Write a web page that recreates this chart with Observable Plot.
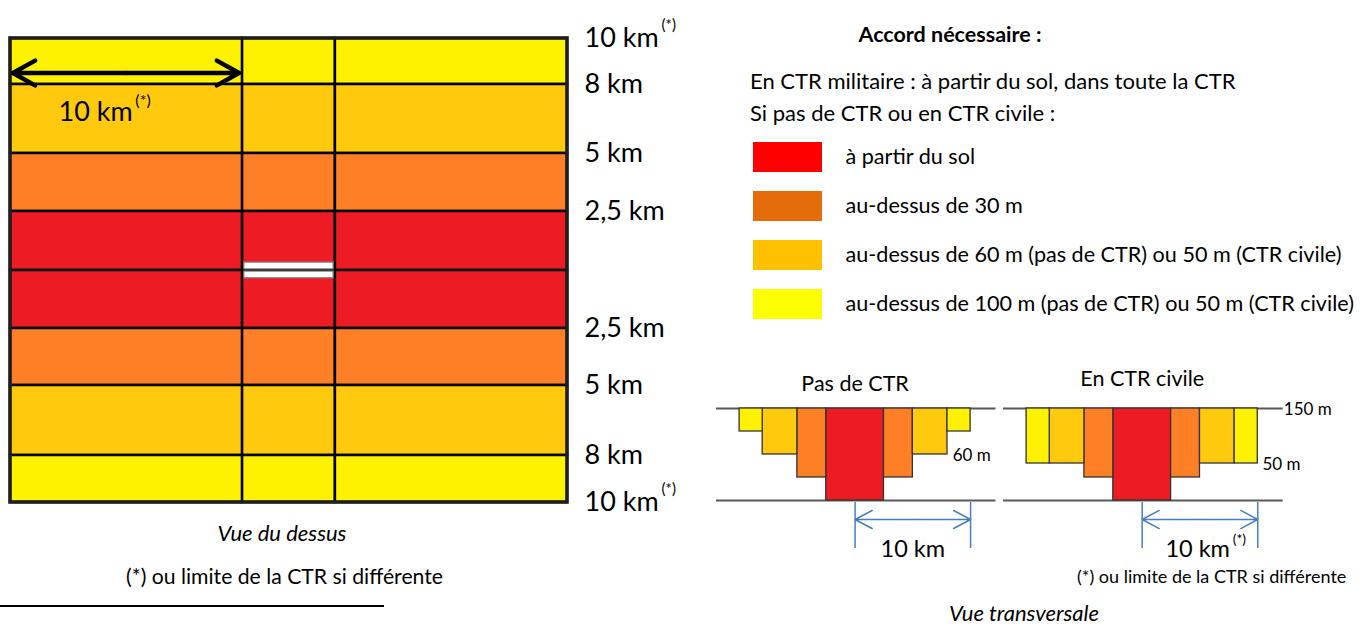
<!DOCTYPE html>
<html>
<head>
<meta charset="utf-8">
<script src="https://cdn.jsdelivr.net/npm/d3@7"></script>
<script src="https://cdn.jsdelivr.net/npm/@observablehq/plot@0.6"></script>
<style>
  html, body { margin: 0; padding: 0; background: #fff; }
  #page { position: relative; width: 1362px; height: 626px; overflow: hidden; font-family: Lato, "Open Sans", sans-serif; color: #000; }
  .lbl { position: absolute; line-height: 1; white-space: nowrap; }
  .slot { position: absolute; }
  .slot svg { display: block; overflow: visible; }
</style>
</head>
<body>
<div id="page"></div>
<script>
// ---------- DATA ----------
// Top view (vue du dessus): band boundaries (km from the aerodrome), colours from top to bottom
const bandEdgesKm = [10, 8, 5, 2.5, 0, -2.5, -5, -8, -10];
const bandColors = ["#FFF200", "#FFC90E", "#FF7F27", "#ED1C24", "#ED1C24", "#FF7F27", "#FFC90E", "#FFF200"];
const columnEdgesKm = [-12, -2, 2, 12];
const runwayStripsKm = [[0.05, 0.33], [-0.33, -0.05]];
const distanceTicksKm = [10, 8, 5, 2.5, -2.5, -5, -8, -10];
const distanceTickLabels = ["10 km", "8 km", "5 km", "2,5 km", "2,5 km", "5 km", "8 km", "10 km"];
const starredTicksKm = [10, -10];

// Legend
const legendLabels = [
  "à partir du sol",
  "au-dessus de 30 m",
  "au-dessus de 60 m (pas de CTR) ou 50 m (CTR civile)",
  "au-dessus de 100 m (pas de CTR) ou 50 m (CTR civile)"
];
const legendColors = ["#FF0000", "#E46C0A", "#FFC000", "#FFFF00"];

// Cross-sections (vue transversale)
const zoneNames = ["rouge", "orange", "or", "jaune"];
const zoneInnerKm = [0, 2.5, 5, 8];
const zoneOuterKm = [2.5, 5, 8, 10];
const zoneColors = ["#ED1C24", "#FF7F27", "#FFC90E", "#FFF200"];
const floorPasDeCTR = [0, 30, 60, 100];
const floorCTRCivile = [0, 30, 50, 50];
const ceilingM = 150;
const dimensionKm = [0, 10];

// ---------- LAYOUT HELPERS ----------
const page = document.getElementById("page");
function place(node, left, top) {
  const d = document.createElement("div");
  d.className = "slot";
  d.style.left = left + "px";
  d.style.top = top + "px";
  d.appendChild(node);
  page.appendChild(d);
}
function label(text, o) {
  const s = document.createElement("div");
  s.className = "lbl";
  s.textContent = text;
  s.style.fontSize = o.size + "px";
  s.style.top = o.top + "px";
  if (o.weight) s.style.fontWeight = o.weight;
  if (o.italic) s.style.fontStyle = "italic";
  if (o.center != null) { s.style.left = o.center + "px"; s.style.transform = "translateX(-50%)"; }
  else s.style.left = o.left + "px";
  page.appendChild(s);
}
const baseStyle = {fontFamily: "Lato, 'Open Sans', sans-serif", background: "transparent", overflow: "visible", color: "#000"};

// Schematic (non-proportional) vertical layouts, applied as scale transforms
const topViewLayout = d3.scaleLinear().domain([-10, -8, -5, -2.5, 0, 2.5, 5, 8, 10]).range([502, 455, 385, 328, 270, 211, 153, 84, 38]);
const sectionLayout = d3.scaleLinear().domain([-60, 0, 30, 50, 60, 100, 150]).range([220, 160, 137, 123, 114, 91, 68]);

// ---------- TOP VIEW ----------
const cells = [];
bandColors.forEach((c, i) => {
  for (let j = 0; j < columnEdgesKm.length - 1; j++) {
    cells.push({x1: columnEdgesKm[j], x2: columnEdgesKm[j + 1], y1: bandEdgesKm[i + 1], y2: bandEdgesKm[i], fill: c});
  }
});
const tickLabel = new Map(distanceTicksKm.map((d, i) => [d, distanceTickLabels[i]]));
const arrowHalves = [{x1: -7, x2: -11.9}, {x1: -7, x2: -2.15}];

const topView = Plot.plot({
  width: 700, height: 600,
  marginLeft: 10, marginRight: 133, marginTop: 0, marginBottom: 0,
  style: baseStyle,
  x: {domain: [-12, 12], axis: null},
  y: {transform: topViewLayout, domain: [0, 600], range: [0, 600]},
  color: {type: "identity"},
  marks: [
    Plot.rect(cells, {x1: "x1", x2: "x2", y1: "y1", y2: "y2", fill: "fill", stroke: "#000", strokeWidth: 2.5}),
    Plot.rect(runwayStripsKm, {x1: -1.92, x2: 1.92, y1: d => d[0], y2: d => d[1], fill: "#fff", stroke: "#8c8c8c", strokeWidth: 1.2}),
    Plot.rect([0], {x1: -12, x2: 12, y1: -10, y2: 10, fill: "none", stroke: "#1e1e1e", strokeWidth: 3.5}),
    Plot.arrow(arrowHalves, {x1: "x1", x2: "x2", y1: 8.5, y2: 8.5, stroke: "#000", strokeWidth: 4.5, headLength: 8.5, headAngle: 58}),
    Plot.text(["10 km"], {x: -9.93, y: 6.8, textAnchor: "start", fontSize: 27}),
    Plot.text(["(*)"], {x: -6.62, y: 7.3, textAnchor: "start", fontSize: 16}),
    Plot.axisY(distanceTicksKm, {anchor: "right", tickSize: 0, tickPadding: 17, tickFormat: d => tickLabel.get(d), fontSize: 27, label: null}),
    Plot.text(starredTicksKm, {x: 12, y: d => d, dx: 94, dy: -13, textAnchor: "start", fontSize: 15, text: () => "(*)"})
  ]
});
place(topView, 0, 0);

// ---------- LEGEND ----------
const legendPlot = Plot.plot({
  width: 622, height: 200, margin: 0,
  style: baseStyle,
  x: {domain: [0, 1], range: [13, 82], axis: null},
  y: {type: "band", domain: legendLabels, range: [12, 189], paddingInner: 0.39, paddingOuter: 0, axis: null},
  color: {type: "identity"},
  marks: [
    Plot.barX(legendLabels, {x1: 0, x2: 1, y: d => d, fill: (d, i) => legendColors[i]}),
    Plot.text(legendLabels, {x: 1, y: d => d, dx: 23, textAnchor: "start", fontSize: 21.6, text: d => d})
  ]
});
place(legendPlot, 740, 130);

// ---------- CROSS-SECTIONS ----------
const dimBlue = "#4A7EBB";
function crossSection(title, floors, o) {
  const rects = [];
  zoneNames.forEach((name, i) => {
    const base = {zone: name, y1: floors[i], y2: ceilingM, fill: zoneColors[i]};
    if (zoneInnerKm[i] === 0) rects.push({...base, x1: -zoneOuterKm[i], x2: zoneOuterKm[i]});
    else rects.push({...base, x1: -zoneOuterKm[i], x2: -zoneInnerKm[i]}, {...base, x1: zoneInnerKm[i], x2: zoneOuterKm[i]});
  });
  const mid = (dimensionKm[0] + dimensionKm[1]) / 2;
  return Plot.plot({
    width: o.width, height: 230, margin: 0,
    style: baseStyle,
    x: {domain: [-12, 12.2], range: o.xRange, axis: null},
    y: {transform: sectionLayout, domain: [0, 230], range: [0, 230], axis: null},
    color: {type: "identity"},
    marks: [
      Plot.ruleY([0, ceilingM], {x1: -12, x2: 12.2, stroke: "#595959", strokeWidth: 1.8}),
      Plot.rect(rects, {x1: "x1", x2: "x2", y1: "y1", y2: "y2", fill: "fill", stroke: "#333", strokeWidth: 1.3}),
      Plot.text([title], {x: 0, frameAnchor: "top", dy: o.titleDy, fontSize: 21.5}),
      Plot.text(o.notes, {x: "x", y: "y", dy: o.noteDy, text: "text", textAnchor: "start", fontSize: 17}),
      Plot.ruleX(dimensionKm, {y1: -2, y2: -48, stroke: dimBlue, strokeWidth: 1.5}),
      Plot.arrow(dimensionKm, {x1: mid, x2: d => d, y1: -19, y2: -19, stroke: dimBlue, strokeWidth: 1.5, headLength: 20, headAngle: 56}),
      Plot.text(["10 km"], {x: o.dimLabelX, y: -49, fontSize: 23.5}),
      ...(o.star ? [Plot.text(["(*)"], {x: o.dimLabelX, y: -39, dx: 35, textAnchor: "start", fontSize: 14})] : [])
    ]
  });
}
place(crossSection("Pas de CTR", floorPasDeCTR, {
  width: 298, xRange: [16, 295.5], titleDy: 35, dimLabelX: 5, star: false, noteDy: 1,
  notes: [{x: 8.45, y: 60, text: "60 m"}]
}), 700, 340);
place(crossSection("En CTR civile", floorCTRCivile, {
  width: 364, xRange: [5, 284.7], titleDy: 30, dimLabelX: 4.8, star: true, noteDy: 1,
  notes: [{x: 10.4, y: 50, text: "50 m"}, {x: 12.25, y: 150, text: "150 m"}]
}), 998, 340);

// ---------- TEXTS ----------
label("Accord nécessaire :", {center: 950, top: 24, size: 21.5, weight: 700});
label("En CTR militaire : à partir du sol, dans toute la CTR", {left: 750, top: 70, size: 22});
label("Si pas de CTR ou en CTR civile :", {left: 750, top: 102, size: 22});
label("Vue du dessus", {center: 282, top: 521.5, size: 22, italic: true});
label("(*) ou limite de la CTR si différente", {center: 284.5, top: 566, size: 21.2});
label("(*) ou limite de la CTR si différente", {left: 1077, top: 567, size: 18});
label("Vue transversale", {center: 1024, top: 601.5, size: 22, italic: true});

const rule = document.createElement("div");
rule.style.cssText = "position:absolute;left:0;top:604.5px;width:384px;height:2.5px;background:#000;";
page.appendChild(rule);
</script>
</body>
</html>
